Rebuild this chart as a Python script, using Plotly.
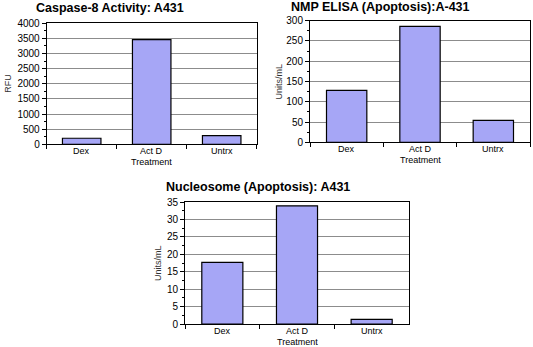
import plotly.graph_objects as go

# Treatment groups shared by all three assays
categories = ["Dex", "Act D", "Untrx"]

# Assay readouts per treatment
caspase8_rfu = [200, 3460, 290]
nmp_units = [128, 286, 54]
nucleosome_units = [17.7, 33.9, 1.3]

titles = ["Caspase-8 Activity: A431", "NMP ELISA (Apoptosis):A-431", "Nucleosome (Apoptosis): A431"]
y_titles = ["RFU", "Units/mL", "Units/mL"]
y_ranges = [(0, 4000, 500), (0, 300, 50), (0, 35, 5)]

W, H = 533, 347
# Plot areas in pixels: (left, right, top, bottom)
boxes = [(46.7, 256.7, 23.3, 144.3), (310, 530, 20.7, 142.3), (185, 409, 202, 324)]
title_pos = [(110, 8), (380, 7), (258, 187)]
ytitle_x = [8, 278, 158]

BAR = "#a6a6f6"
FONT = "Liberation Sans, Arial, sans-serif"

fig = go.Figure()
series = [caspase8_rfu, nmp_units, nucleosome_units]
for i, vals in enumerate(series):
    n = "" if i == 0 else str(i + 1)
    fig.add_trace(go.Bar(
        x=categories, y=vals, xaxis="x" + n, yaxis="y" + n,
        width=0.55, marker=dict(color=BAR, line=dict(color="black", width=1.2)),
        showlegend=False,
    ))
    l, r, t, b = boxes[i]
    lo, hi, step = y_ranges[i]
    fig.update_layout(**{
        "xaxis" + n: dict(
            domain=[l / W, r / W], anchor="y" + n, type="category", automargin=False,
            tickson="boundaries", ticks="outside", ticklen=4, tickcolor="black",
            showticklabels=False,
            showline=True, linecolor="black", linewidth=1, mirror=True,
            showgrid=False,
        ),
        "yaxis" + n: dict(
            domain=[1 - b / H, 1 - t / H], anchor="x" + n, automargin=False,
            range=[lo, hi], dtick=step, tick0=0,
            ticks="outside", ticklen=4, tickcolor="black",
            showline=True, linecolor="black", linewidth=1, mirror=True,
            showgrid=True, gridcolor="#8c8c8c", gridwidth=1, zeroline=False,
            minor=dict(dtick=step / 2, ticks="outside", ticklen=2, tickcolor="black", showgrid=False),
            tickfont=dict(size=10, color="black", family=FONT),
        ),
    })
    # category labels under each bar
    for c in categories:
        fig.add_annotation(x=c, xref="x" + n, y=1 - (b + 6.5) / H, yref="paper",
                           text=c, showarrow=False, xanchor="center", yanchor="middle",
                           font=dict(size=9, color="black", family=FONT))
    tx, ty = title_pos[i]
    fig.add_annotation(x=tx / W, y=1 - ty / H, xref="paper", yref="paper",
                       text="<b>" + titles[i] + "</b>", showarrow=False,
                       xanchor="center", yanchor="middle",
                       font=dict(size=12.5, color="black", family=FONT))
    fig.add_annotation(x=ytitle_x[i] / W, y=1 - (t + b) / 2 / H, xref="paper", yref="paper",
                       text=y_titles[i], showarrow=False, textangle=-90,
                       xanchor="center", yanchor="middle",
                       font=dict(size=9, color="#333333", family=FONT))
    # x-axis title placed just below the category labels
    fig.add_annotation(x=(l + r) / 2 / W, y=1 - (b + 17.5) / H, xref="paper", yref="paper",
                       text="Treatment", showarrow=False,
                       xanchor="center", yanchor="middle",
                       font=dict(size=9, color="black", family=FONT))

fig.update_layout(
    width=W, height=H, margin=dict(l=0, r=0, t=0, b=0),
    paper_bgcolor="white", plot_bgcolor="white", bargap=0.45,
)

fig.write_html("out.html")
